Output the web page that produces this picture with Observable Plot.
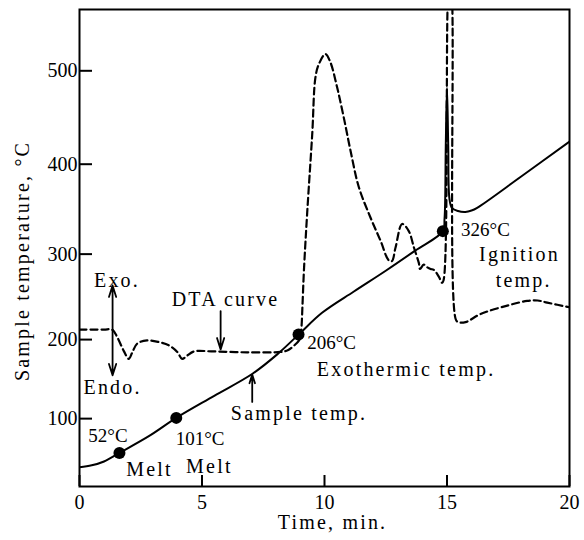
<!DOCTYPE html>
<html><head><meta charset="utf-8">
<script src="https://cdn.jsdelivr.net/npm/d3@7"></script>
<script src="https://cdn.jsdelivr.net/npm/@observablehq/plot@0.6"></script>
<style>
body{margin:0;background:#fff;}
#chart svg{display:block;}
.note text{letter-spacing:2.2px;}
</style></head><body><div id="chart"></div>
<script>
// Sample temperature curve (solid)
const sampleTime = [0, 0.5, 1.0, 1.63, 2.83, 3.95, 5.5, 7.06, 8.07, 8.94, 9.9, 11.2, 12.5, 13.7, 14.83, 14.9, 14.95, 15.0, 15.05, 15.1, 15.2, 15.45, 15.75, 16.0, 16.23, 18.0, 20.0];
const sampleTemp = [30, 33, 39, 52, 76, 101, 130, 158, 182, 206, 232, 257, 281, 304, 326, 340, 420, 482, 420, 362, 352, 348.5, 347.5, 349, 352, 386, 424.5];
// DTA curve (dashed)
const dtaTime = [0, 1.0, 1.33, 1.54, 1.81, 2.01, 2.15, 2.35, 2.76, 3.24, 3.65, 3.99, 4.19, 4.39, 4.67, 5.47, 6.84, 8.2, 8.5, 8.75, 9.0, 9.06, 9.1, 9.16, 9.29, 9.5, 9.63, 9.77, 10.04, 10.24, 10.52, 10.79, 11.06, 11.4, 11.88, 12.29, 12.62, 12.75, 12.9, 13.17, 13.44, 13.65, 13.85, 13.9, 14.05, 14.19, 14.33, 14.46, 14.67, 14.8, 14.86, 15.02, 15.12, 15.22, 15.35, 15.45, 15.76, 16.37, 17.46, 18.27, 18.7, 19.09, 20.0];
const dtaValue = [212, 212, 212, 203, 186, 176.5, 184, 195, 199, 197, 193, 185, 176.5, 180.5, 185.6, 185.6, 184.5, 185, 187, 192.5, 201, 215, 240, 281, 345, 433, 493, 507, 517.6, 509, 482, 450, 415, 375, 341, 315, 293, 292, 307.5, 334, 326, 307.5, 290, 283, 288, 285, 283, 282, 274, 267, 270, 564, 650, 564, 225, 221, 221, 230.6, 240.5, 246, 246.5, 244, 238.5];
// Marked points
const pointTime = [1.63, 3.95, 8.94, 14.83];
const pointTemp = [52, 101, 206, 326];
const pointLabel = ["52°C", "101°C", "206°C", "326°C"];
const pointLabelTime = [1.16, 4.92, 10.29, 16.57];
const pointLabelTemp = [75.7, 71.5, 195.7, 327];
// Annotations
const noteText = ["Melt", "Melt", "Exothermic temp.", "Ignition", "temp.", "DTA curve", "Sample temp.", "Exo.", "Endo."];
const noteTime = [2.86, 5.3, 13.33, 17.96, 18.13, 5.96, 8.96, 1.53, 1.35];
const noteTemp = [26.5, 31.4, 162.8, 299.3, 269.6, 247.5, 106.4, 270.2, 140];
const arrowTime = [1.35, 1.35, 5.76, 7.05];
const arrowFrom = [212, 212, 234, 122];
const arrowTo = [264, 156, 188, 157];
// Axes
const xTicks = [0, 5, 10, 15, 20];
const yTicks = [100, 200, 300, 400, 500];
const xLabel = "Time, min.";
const yLabel = "Sample temperature, °C";

const sample = sampleTime.map((t, i) => ({t, v: sampleTemp[i]}));
const dta = dtaTime.map((t, i) => ({t, v: dtaValue[i]}));
const points = pointTime.map((t, i) => ({t, v: pointTemp[i]}));
const pointLabels = pointLabel.map((s, i) => ({s, t: pointLabelTime[i], v: pointLabelTemp[i]}));
const notes = noteText.map((s, i) => ({s, t: noteTime[i], v: noteTemp[i]}));
const arrows = arrowTime.map((t, i) => ({t, a: arrowFrom[i], b: arrowTo[i]}));

const chart = Plot.plot({
  width: 584, height: 540,
  marginLeft: 79, marginRight: 15, marginTop: 9, marginBottom: 54,
  style: {fontFamily: "'Liberation Serif', 'Times New Roman', serif", fontSize: "20px", color: "#000", background: "#fff"},
  x: {domain: [0, 20]},
  y: {type: "pow", exponent: 1.15, domain: [-7, 564]},
  marks: [
    Plot.frame({stroke: "#000", strokeWidth: 2}),
    Plot.axisX(xTicks, {tickSize: 0, tickPadding: 8, label: null, fill: "#000"}),
    Plot.axisX(xTicks, {tickSize: 11, dy: -11, strokeWidth: 2, fill: "none", label: null}),
    Plot.axisY(yTicks, {tickSize: 0, tickPadding: 2, label: null, fill: "#000"}),
    Plot.axisY(yTicks, {tickSize: 13, dx: 13, strokeWidth: 2, fill: "none", label: null}),
    Plot.line(dta, {x: "t", y: "v", curve: "catmull-rom", stroke: "#000", strokeWidth: 2.2, strokeDasharray: "7,4", clip: true}),
    Plot.line(sample, {x: "t", y: "v", curve: "catmull-rom", stroke: "#000", strokeWidth: 2, clip: true}),
    Plot.dot(points, {x: "t", y: "v", r: 6, fill: "#000", stroke: null}),
    Plot.arrow(arrows, {x: "t", y1: "a", y2: "b", stroke: "#000", strokeWidth: 1.8, headLength: 10, headAngle: 35}),
    Plot.text(pointLabels, {x: "t", y: "v", text: "s", fontSize: 19, fill: "#000"}),
    Plot.text(notes, {x: "t", y: "v", text: "s", fontSize: 20, fill: "#000", className: "note"}),
    Plot.text([xLabel], {frameAnchor: "bottom", lineAnchor: "middle", textAnchor: "middle", dy: 36, dx: 8, fontSize: 20, fill: "#000", className: "note"}),
    Plot.text([yLabel], {frameAnchor: "left", lineAnchor: "middle", textAnchor: "middle", rotate: -90, dx: -57, dy: 13, fontSize: 20, fill: "#000", className: "note"})
  ]
});
document.getElementById("chart").appendChild(chart);
</script>
</body></html>
